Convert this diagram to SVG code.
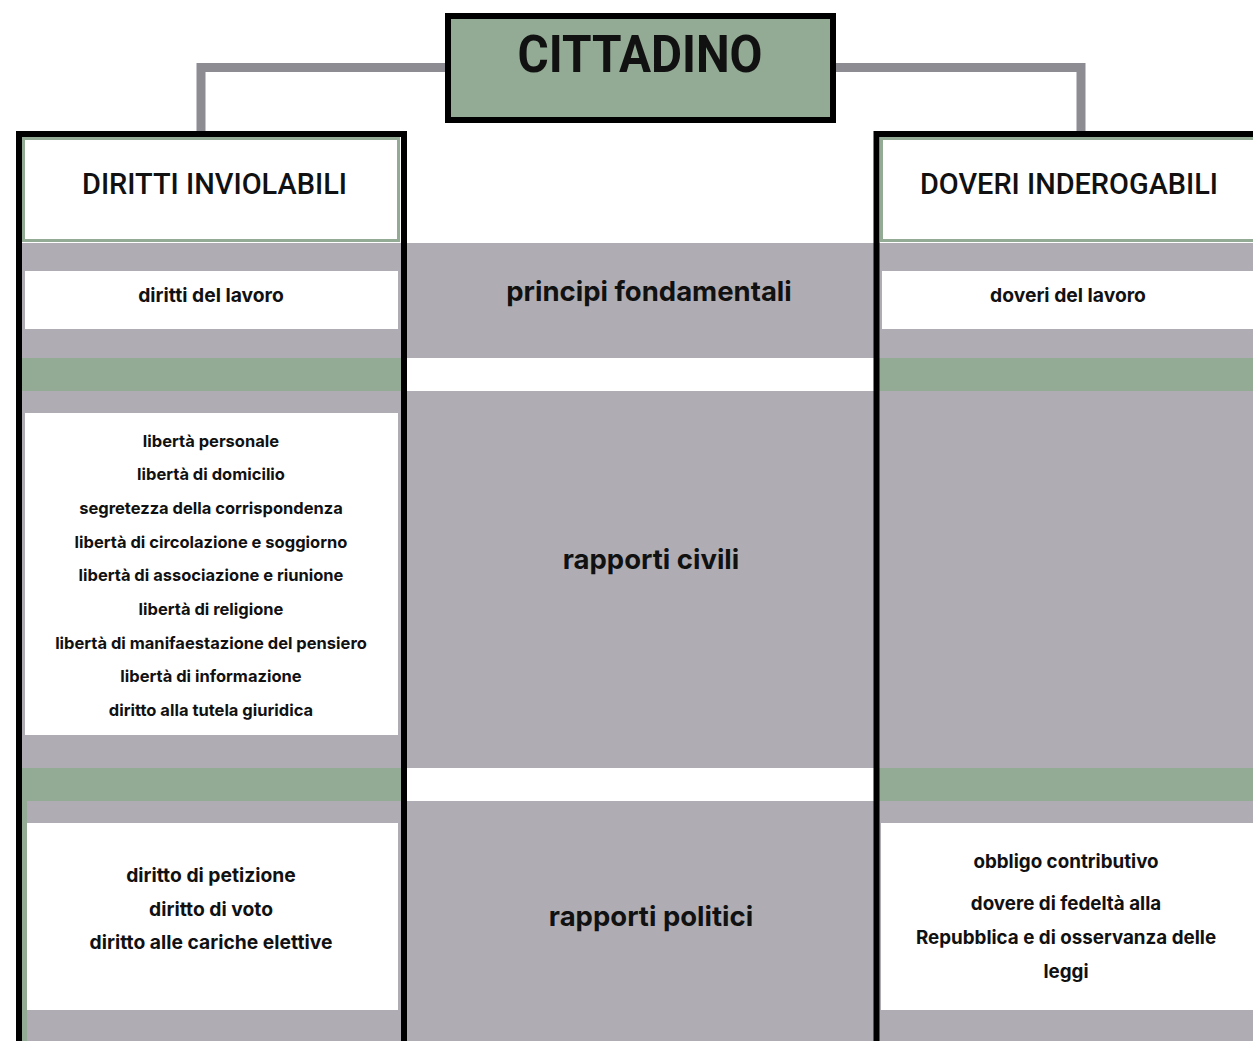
<svg xmlns="http://www.w3.org/2000/svg" width="1253" height="1041" viewBox="0 0 1253 1041">
<style>
.gray{fill:#AFADB3}
.green{fill:#93AA95}
.white{fill:#FFFFFF}
.border{fill:none;stroke:#000;stroke-width:6}
.conn{fill:none;stroke:#8E8C93;stroke-width:9}
.hdr{font-family:Roboto,"Liberation Sans",sans-serif;font-weight:500;font-size:30px;fill:#111;text-anchor:middle}
.mid{font-family:Inter,"Liberation Sans",sans-serif;font-weight:700;font-size:27.5px;fill:#111;text-anchor:middle}
.item{font-family:Inter,"Liberation Sans",sans-serif;font-weight:700;font-size:16.5px;fill:#111;text-anchor:middle}
.item2{font-family:Inter,"Liberation Sans",sans-serif;font-weight:700;font-size:19.3px;fill:#111;text-anchor:middle}
.item3{font-family:Inter,"Liberation Sans",sans-serif;font-weight:700;font-size:18.8px;fill:#111;text-anchor:middle}
</style>
<rect x="0" y="0" width="1253" height="1041" fill="#fff"/>
<g id="bands">
<rect class="gray" x="22" y="243" width="1231" height="115"/>
<rect class="green" x="22" y="358" width="380" height="33"/>
<rect class="green" x="878" y="358" width="375" height="33"/>
<rect class="gray" x="22" y="391" width="1231" height="377"/>
<rect class="green" x="22" y="768" width="380" height="33"/>
<rect class="green" x="878" y="768" width="375" height="33"/>
<rect class="gray" x="22" y="801" width="1231" height="240"/>
<rect class="green" x="22" y="801" width="5" height="240"/>
</g>
<g id="connectors">
<polyline class="conn" points="448,67.5 201,67.5 201,132"/>
<polyline class="conn" points="833,67.5 1081,67.5 1081,132"/>
</g>
<g id="cittadino">
<rect x="448" y="16" width="385" height="104" fill="#93AA95" stroke="#000" stroke-width="6"/>
<text x="640" y="72" font-family="Roboto,'Liberation Sans',sans-serif" font-weight="700" font-size="51" fill="#111" text-anchor="middle" textLength="245" lengthAdjust="spacingAndGlyphs">CITTADINO</text>
</g>
<g id="diritti-inviolabili">
<rect x="23.5" y="138.5" width="375" height="102" fill="#fff" stroke="#93AA95" stroke-width="3"/>
<text class="hdr" x="214.5" y="194" textLength="265" lengthAdjust="spacingAndGlyphs">DIRITTI INVIOLABILI</text>
</g>
<g id="doveri-inderogabili">
<rect x="881.5" y="138.5" width="380" height="102" fill="#fff" stroke="#93AA95" stroke-width="3"/>
<text class="hdr" x="1069" y="194" textLength="298" lengthAdjust="spacingAndGlyphs">DOVERI INDEROGABILI</text>
</g>
<g id="diritti-lavoro">
<rect class="white" x="25" y="271" width="373" height="58"/>
<text class="item2" x="211" y="302">diritti del lavoro</text>
</g>
<g id="doveri-lavoro">
<rect class="white" x="882" y="271" width="371" height="58"/>
<text class="item2" x="1068" y="302">doveri del lavoro</text>
</g>
<g id="principi-fondamentali">
<text class="mid" x="649" y="301">principi fondamentali</text>
</g>
<g id="rapporti-civili">
<text class="mid" x="651" y="569">rapporti civili</text>
</g>
<g id="rapporti-politici">
<text class="mid" x="651" y="926">rapporti politici</text>
</g>
<g id="diritti-civili">
<rect class="white" x="25" y="413" width="373" height="322"/>
<text class="item" x="211" y="447">libertà personale</text>
<text class="item" x="211" y="480">libertà di domicilio</text>
<text class="item" x="211" y="514">segretezza della corrispondenza</text>
<text class="item" x="211" y="548">libertà di circolazione e soggiorno</text>
<text class="item" x="211" y="581">libertà di associazione e riunione</text>
<text class="item" x="211" y="615">libertà di religione</text>
<text class="item" x="211" y="649">libertà di manifaestazione del pensiero</text>
<text class="item" x="211" y="682">libertà di informazione</text>
<text class="item" x="211" y="716">diritto alla tutela giuridica</text>
</g>
<g id="diritti-politici">
<rect class="white" x="27" y="823" width="371" height="187"/>
<text class="item2" x="211" y="882">diritto di petizione</text>
<text class="item2" x="211" y="916">diritto di voto</text>
<text class="item2" x="211" y="949">diritto alle cariche elettive</text>
</g>
<g id="doveri-politici">
<rect class="white" x="881" y="823" width="372" height="187"/>
<text class="item3" x="1066" y="868">obbligo contributivo</text>
<text class="item3" x="1066" y="910">dovere di fedeltà alla</text>
<text class="item3" x="1066" y="944">Repubblica e di osservanza delle</text>
<text class="item3" x="1066" y="978">leggi</text>
</g>
<g id="panel-borders">
<path class="border" d="M19,1045 V134 H404 V1045"/>
<path class="border" d="M876.5,1045 V134 H1260"/>
</g>
</svg>
